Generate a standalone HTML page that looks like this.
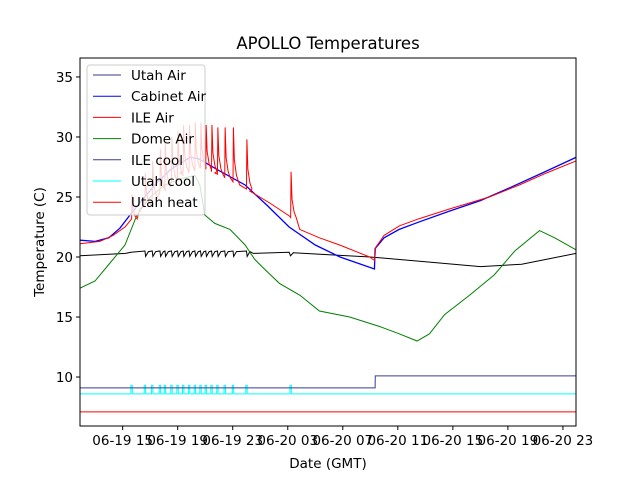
<!DOCTYPE html>
<html><head><meta charset="utf-8"><style>
body{margin:0;background:#fff;}
svg{display:block;font-family:"DejaVu Sans","Liberation Sans",sans-serif;}
</style></head><body>
<svg id="chart" width="640" height="480">
<rect x="0" y="0" width="640" height="480" fill="#fff"/>
<text x="328" y="49" font-size="16.5" text-anchor="middle">APOLLO Temperatures</text>
<g id="plot"></g>
<g id="axes"></g>
<text x="328" y="468" font-size="13.5" text-anchor="middle">Date (GMT)</text>
<text transform="translate(44,242) rotate(-90)" font-size="13.5" text-anchor="middle">Temperature (C)</text>
<g id="legend"></g>
</svg>
<script>
// x in hours since 06-19 00:00
const xTickVals = [15,19,23,27,31,35,39,43,47];
const xTickLabels = ["06-19 15","06-19 19","06-19 23","06-20 03","06-20 07","06-20 11","06-20 15","06-20 19","06-20 23"];
const yTickVals = [10,15,20,25,30,35];
const pulseHours = [15.65,16.62,17.15,17.71,18.07,18.55,18.99,19.4,19.83,20.25,20.66,21.04,21.46,21.89,22.42,23.02,24.0,27.21];
const ileAirPeaks = [25.2,27,28,29,29.5,30,30.5,31,31,31.2,31.2,31,31,30.8,30.8,30.8,29.8,27.1];
const ileAirBaseH = [11.9,13.35,14.3,15.17,16.25,17.71,19.16,20.61,21.7,23.51,24.24,25.69,27.14,27.87,29.3,30.77,32.95,33.32,33.39,34.0,35.12,36.57,38.75,41.65,43.83,45.8,47.95];
const ileAirBaseT = [21.1,21.3,21.8,22.5,24,25.5,27,27.5,27,26,25.5,24.5,23.4,22.3,21.6,21,20,19.7,20.8,21.8,22.6,23.2,24.0,25,26,27,28];
const blueH = [11.9,13.0,14.0,14.8,15.6,16.6,17.5,18.5,19.9,20.5,22.0,23.9,25.5,27.1,29,30.8,33.3,33.35,34.0,35.1,36.5,38.7,41,43,45.5,47.95];
const blueT = [21.4,21.3,21.6,22.4,23.6,25.0,26.2,27.3,28.3,28.2,27.2,26.0,24.3,22.5,21.0,20,19.0,20.7,21.6,22.3,22.9,23.8,24.7,25.7,27.0,28.3];
const domeH = [11.9,12.99,14.08,15.17,16.04,17,18.07,19.16,20.25,20.61,20.97,21.7,22.8,23.9,24.6,25.3,26.4,27.9,29.3,31.5,33.7,35.1,36.4,37.3,38.4,40.2,42,43.5,45.3,46.4,47.95];
const domeT = [17.4,18,19.5,21,23.5,25,26,26.5,26.8,26,23.5,22.8,22.3,21,19.8,19,17.8,16.8,15.5,15,14.2,13.6,13.0,13.6,15.2,16.8,18.5,20.5,22.2,21.6,20.6];
const utahAirH = [11.9,15.2,15.6,24.5,27.1,27.2,27.4,33,37,41,44,47.95];
const utahAirT = [20.1,20.3,20.4,20.3,20.4,20.1,20.35,20,19.6,19.2,19.4,20.3];
const navyH = [11.9,33.35,33.36,47.95];
const navyT = [9.1,9.1,10.1,10.1];
const coolBase = 8.6, coolHigh = 9.3, heatVal = 7.1;

const X0=80,X1=576,Y0=58,Y1=426,HMIN=11.9,HMAX=47.95,TMIN=5.92,TMAX=36.58;
const sx=h=>X0+(h-HMIN)/(HMAX-HMIN)*(X1-X0);
const sy=t=>Y1-(t-TMIN)/(TMAX-TMIN)*(Y1-Y0);
const NS="http://www.w3.org/2000/svg";
const plot=document.getElementById('plot'), axes=document.getElementById('axes'), leg=document.getElementById('legend');
function interp(H,T,h){for(let i=0;i<H.length-1;i++){if(h>=H[i]&&h<=H[i+1]){const f=(h-H[i])/((H[i+1]-H[i])||1);return T[i]+f*(T[i+1]-T[i]);}}return T[T.length-1];}
function line(pts,color,name,w){
  const p=document.createElementNS(NS,'polyline');
  p.setAttribute('points',pts.map(q=>sx(q[0]).toFixed(2)+','+sy(q[1]).toFixed(2)).join(' '));
  p.setAttribute('fill','none');p.setAttribute('stroke',color);p.setAttribute('stroke-width',w||1);
  
  
  plot.appendChild(p);
}
const clip=document.createElementNS(NS,'clipPath');clip.setAttribute('id','c');
const cr=document.createElementNS(NS,'rect');cr.setAttribute('x',X0);cr.setAttribute('y',Y0);cr.setAttribute('width',X1-X0);cr.setAttribute('height',Y1-Y0);
clip.appendChild(cr);plot.appendChild(clip);plot.setAttribute('clip-path','url(#c)');

line([[HMIN,heatVal],[HMAX,heatVal]],'#ff0000','utah-heat-line');
let cp=[[HMIN,coolBase]];
pulseHours.forEach(h=>{cp.push([h-0.05,coolBase],[h-0.05,coolHigh],[h+0.05,coolHigh],[h+0.05,coolBase]);});
cp.push([HMAX,coolBase]);
line(cp,'#00ffff','utah-cool-line');
line(navyH.map((h,i)=>[h,navyT[i]]),'#3a3a96','utah-air-step-line');
let ua=[];
for(let i=0;i<utahAirH.length;i++){
  ua.push([utahAirH[i],utahAirT[i]]);
  if(i===2){pulseHours.slice(1,17).forEach(h=>{ua.push([h,20.5],[h+0.05,20.05],[h+0.25,20.45]);});}
}
line(ua,'#000000','utah-air-black-line');
line(domeH.map((h,i)=>[h,domeT[i]]),'#008000','dome-air-line');
line(blueH.map((h,i)=>[h,blueT[i]]),'#0000ff','ile-cool-line',1.3);
let ia=[];let pi=0;
for(let i=0;i<ileAirBaseH.length;i++){
  const h=ileAirBaseH[i];
  while(pi<pulseHours.length&&pulseHours[pi]<h){
    const p=pulseHours[pi],b=interp(ileAirBaseH,ileAirBaseT,p),pk=ileAirPeaks[pi];
    ia.push([p,b],[p+0.03,pk],[p+0.1,b+(pk-b)*0.4],[p+0.25,b+(pk-b)*0.12],[p+0.4,b]);
    pi++;
  }
  ia.push([h,ileAirBaseT[i]]);
}
line(ia,'#ff0000','ile-air-line');

const fr=document.createElementNS(NS,'rect');
fr.setAttribute('x',X0);fr.setAttribute('y',Y0);fr.setAttribute('width',X1-X0);fr.setAttribute('height',Y1-Y0);
fr.setAttribute('fill','none');fr.setAttribute('stroke','#000');fr.setAttribute('stroke-width','1');


axes.appendChild(fr);
xTickVals.forEach((v,i)=>{
  const x=sx(v);
  const t=document.createElementNS(NS,'line');
  t.setAttribute('x1',x);t.setAttribute('x2',x);t.setAttribute('y1',Y1);t.setAttribute('y2',Y1+4);t.setAttribute('stroke','#000');
  
  
  axes.appendChild(t);
  const l=document.createElementNS(NS,'text');
  l.setAttribute('x',x);l.setAttribute('y',Y1+19);l.setAttribute('font-size','13.5');l.setAttribute('text-anchor','middle');
  l.textContent=xTickLabels[i];
  
  
  axes.appendChild(l);
});
yTickVals.forEach(v=>{
  const y=sy(v);
  const t=document.createElementNS(NS,'line');
  t.setAttribute('x1',X0-4);t.setAttribute('x2',X0);t.setAttribute('y1',y);t.setAttribute('y2',y);t.setAttribute('stroke','#000');
  
  
  axes.appendChild(t);
  const l=document.createElementNS(NS,'text');
  l.setAttribute('x',X0-7);l.setAttribute('y',y+5);l.setAttribute('font-size','13.5');l.setAttribute('text-anchor','end');
  l.textContent=v;
  
  
  axes.appendChild(l);
});
const legNames=["Utah Air","Cabinet Air","ILE Air","Dome Air","ILE cool","Utah cool","Utah heat"];
const legColors=["#3a3a80","#0000ff","#ff0000","#008000","#3a3a96","#00ffff","#ff0000"];
const box=document.createElementNS(NS,'rect');
box.setAttribute('x',87);box.setAttribute('y',65);box.setAttribute('width',118);box.setAttribute('height',150);box.setAttribute('rx',3);
box.setAttribute('fill','rgba(255,255,255,0.8)');box.setAttribute('stroke','#ccc');


leg.appendChild(box);
legNames.forEach((n,i)=>{
  const y=75+i*21.2;
  const l=document.createElementNS(NS,'line');
  l.setAttribute('x1',93);l.setAttribute('x2',121);l.setAttribute('y1',y);l.setAttribute('y2',y);l.setAttribute('stroke',legColors[i]);
  
  
  leg.appendChild(l);
  const t=document.createElementNS(NS,'text');
  t.setAttribute('x',131);t.setAttribute('y',y+5);t.setAttribute('font-size','13.5');
  t.textContent=n;
  
  
  leg.appendChild(t);
});
</script>
</body></html>
